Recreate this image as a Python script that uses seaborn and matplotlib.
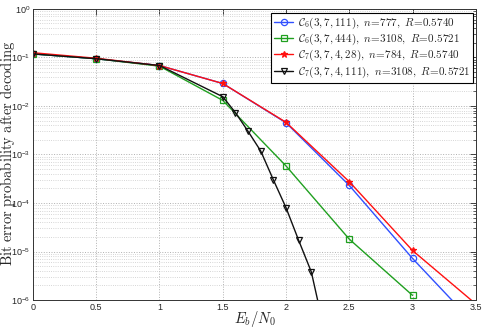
import numpy as np
import pandas as pd
import matplotlib
matplotlib.use('Agg')
import matplotlib.pyplot as plt
import seaborn as sns
from matplotlib.ticker import LogLocator, NullFormatter

# data
snr_a = [0, 0.5, 1, 1.5, 2, 2.5, 3, 3.5]
ber_c6_111 = [0.118, 0.094, 0.068, 0.029, 0.0045, 2.3e-4, 7.2e-6, 3.0e-7]
ber_c7_28 = [0.125, 0.096, 0.068, 0.029, 0.0046, 2.75e-4, 1.05e-5, 8.3e-7]

snr_b = [0, 0.5, 1, 1.5, 2, 2.5, 3]
ber_c6_444 = [0.118, 0.094, 0.066, 0.013, 5.8e-4, 1.8e-5, 1.25e-6]

snr_c = [0, 0.5, 1, 1.5, 1.6, 1.7, 1.8, 1.9, 2.0, 2.1, 2.2, 2.3]
ber_c7_111 = [0.118, 0.094, 0.068, 0.0155, 0.0073, 0.0030, 0.00118, 3.0e-4,
              8.0e-5, 1.7e-5, 3.8e-6, 2.6e-7]

labels = [r'$\mathcal{C}_6(3,7,111),\ n\!=\!777,\ R\!=\!0.5740$',
          r'$\mathcal{C}_6(3,7,444),\ n\!=\!3108,\ R\!=\!0.5721$',
          r'$\mathcal{C}_7(3,7,4,28),\ n\!=\!784,\ R\!=\!0.5740$',
          r'$\mathcal{C}_7(3,7,4,111),\ n\!=\!3108,\ R\!=\!0.5721$']

sns.set_style('white')
plt.rcParams['font.family'] = ['Liberation Sans', 'DejaVu Sans']
plt.rcParams['mathtext.fontset'] = 'dejavusans'

fig = plt.figure(figsize=(4.85, 3.29), dpi=100)
ax = fig.add_axes([0.068, 0.088, 0.913, 0.885])

series = [(snr_a, ber_c6_111, '#3050ff', 'o'),
          (snr_b, ber_c6_444, '#20a020', 's'),
          (snr_a, ber_c7_28, '#ff1010', '*'),
          (snr_c, ber_c7_111, '#111111', 'v')]

for (x, y, col, mk), lab in zip(series, labels):
    df = pd.DataFrame({'snr': x, 'ber': y})
    sns.lineplot(data=df, x='snr', y='ber', ax=ax, color=col, marker=mk,
                 markersize=4.5 if mk != '*' else 5, markerfacecolor='none' if mk != '*' else col,
                 markeredgecolor=col, markeredgewidth=0.9, linewidth=1.0, label=lab)

ax.set_yscale('log')
ax.set_xlim(0, 3.5)
ax.set_ylim(1e-6, 1)
ax.set_xticks([0, 0.5, 1, 1.5, 2, 2.5, 3, 3.5])
ax.set_xticklabels(['0', '0.5', '1', '1.5', '2', '2.5', '3', '3.5'])
ax.yaxis.set_major_locator(LogLocator(base=10, numticks=10))
ax.yaxis.set_minor_locator(LogLocator(base=10, subs=np.arange(2, 10), numticks=20))
ax.yaxis.set_minor_formatter(NullFormatter())

ax.grid(True, which='major', linestyle=':', color='#b0b0b0', linewidth=0.7)
ax.grid(True, which='minor', axis='y', linestyle=':', color='#c8c8c8', linewidth=0.6)
ax.tick_params(which='both', direction='in', top=True, right=True, labelsize=6.5, pad=2)
ax.tick_params(which='major', length=4, width=0.6)
ax.tick_params(which='minor', length=2, width=0.5)
for sp in ax.spines.values():
    sp.set_color('#333333')
    sp.set_linewidth(0.7)

xl = ax.set_xlabel(r'$E_b/N_0$', fontsize=10.5)
yl = ax.set_ylabel(r'$\mathrm{Bit\ error\ probability\ after\ decoding}$', fontsize=10.5,
                   va='center')
xl.set_math_fontfamily('cm')
yl.set_math_fontfamily('cm')
ax.xaxis.set_label_coords(0.5, -0.03)
ax.yaxis.set_label_coords(-0.057, 0.505)

leg = ax.legend(loc='upper right', bbox_to_anchor=(0.998, 0.995), fontsize=8, frameon=True,
                fancybox=False, edgecolor='black', framealpha=1, handlelength=1.7,
                handletextpad=0.4, borderpad=0.25, labelspacing=0.1, borderaxespad=0.2)
leg.get_frame().set_linewidth(0.8)
for t in leg.get_texts():
    t.set_math_fontfamily('cm')

fig.savefig('out.png', dpi=100)
